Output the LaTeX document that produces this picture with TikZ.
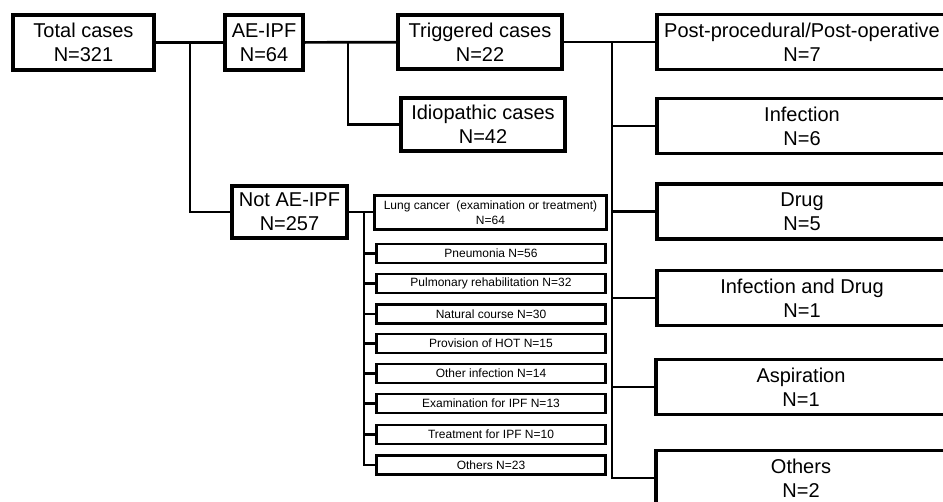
\documentclass[tikz,border=0pt]{standalone}
\usepackage{fontspec}
\setmainfont{Liberation Sans}
\usetikzlibrary{calc}
\definecolor{ink}{HTML}{000000}
\definecolor{paper}{HTML}{FFFFFF}
\tikzset{
  box/.style={draw=ink, line width=3.1pt, inner sep=0pt, align=center,
    font=\fontsize{20}{24}\selectfont},
  bigbox/.style={box, minimum width=290pt, minimum height=55pt},
  smallbox/.style={draw=ink, line width=2.8pt, inner sep=0pt, align=center,
    minimum width=229pt, minimum height=19pt, font=\fontsize{12}{14.5}\selectfont},
  link/.style={draw=ink, line width=2.7pt, line join=miter},
}

\begin{document}
\begin{tikzpicture}[x=1pt, y=-1pt]
  \fill[paper] (0,0) rectangle (943,502);
  \useasboundingbox (0,0) rectangle (943,502);
  \clip (0,0) rectangle (943,502);

  % first levels
  \node[box, minimum width=141pt, minimum height=55pt] (total) at (83.5,42.5) {Total cases\\N=321};
  \node[box, minimum width=78pt, minimum height=55pt] (ae) at (264,42.5) {AE-IPF\\N=64};
  \node[box, minimum width=115pt, minimum height=52pt] (notae) at (289.5,212) {Not AE-IPF\\N=257};
  \node[box, minimum width=164pt, minimum height=54pt] (trig) at (480,42) {Triggered cases\\N=22};
  \node[box, minimum width=164pt, minimum height=53pt] (idio) at (483,124.5) {Idiopathic cases\\N=42};

  % triggers (boxes run past the right edge)
  \node[bigbox] (post) at (802,42) {Post-procedural/Post-operative\\N=7};
  \node[bigbox] (inf) at (802,126) {Infection\\N=6};
  \node[bigbox] (drug) at (802,211.5) {Drug\\N=5};
  \node[bigbox] (infdrug) at (802,298) {Infection and Drug\\N=1};
  \node[bigbox] (asp) at (801,387) {Aspiration\\N=1};
  \node[bigbox] (oth) at (801,478) {Others\\N=2};

  % reasons for not AE-IPF
  \node[smallbox, minimum width=232pt, minimum height=34pt] (lung) at (490.5,212.5) {Lung cancer\ \ (examination or treatment)\\N=64};
  \node[smallbox] (pneu) at (491,253.5) {Pneumonia N=56};
  \node[smallbox] (rehab) at (491,283.5) {Pulmonary rehabilitation N=32};
  \node[smallbox] (nat) at (491,314) {Natural course N=30};
  \node[smallbox] (hot) at (491,343.5) {Provision of HOT N=15};
  \node[smallbox] (othinf) at (491,373.5) {Other infection N=14};
  \node[smallbox] (exam) at (491,403.5) {Examination for IPF N=13};
  \node[smallbox] (treat) at (491,434.5) {Treatment for IPF N=10};
  \node[smallbox] (othr) at (491,465) {Others N=23};

  \coordinate (j1) at (190,42.5);
  \coordinate (j2) at (348,42.5);
  \coordinate (j3) at (612,42);
  \coordinate (j4) at (364,212);

  \draw[link] (total) -- (ae);
  \draw[link] (j1) |- (notae.west);
  \draw[link] (ae) -- (trig);
  \draw[link] (j2) |- (idio.west);

  \draw[link] (trig.east) -- (j3) -- (post.west);
  \draw[link] (j3) |- (oth.west);
  \draw[link] (j3 |- inf.west) -- (inf.west);
  \draw[link] (j3 |- drug.west) -- (drug.west);
  \draw[link] (j3 |- infdrug.west) -- (infdrug.west);
  \draw[link] (j3 |- asp.west) -- (asp.west);

  \draw[link] (notae.east) -- (notae.east -| lung.west);
  \draw[link] (j4) |- (othr.west);
  \draw[link] (j4 |- pneu.west) -- (pneu.west);
  \draw[link] (j4 |- rehab.west) -- (rehab.west);
  \draw[link] (j4 |- nat.west) -- (nat.west);
  \draw[link] (j4 |- hot.west) -- (hot.west);
  \draw[link] (j4 |- othinf.west) -- (othinf.west);
  \draw[link] (j4 |- exam.west) -- (exam.west);
  \draw[link] (j4 |- treat.west) -- (treat.west);
\end{tikzpicture}
\end{document}
